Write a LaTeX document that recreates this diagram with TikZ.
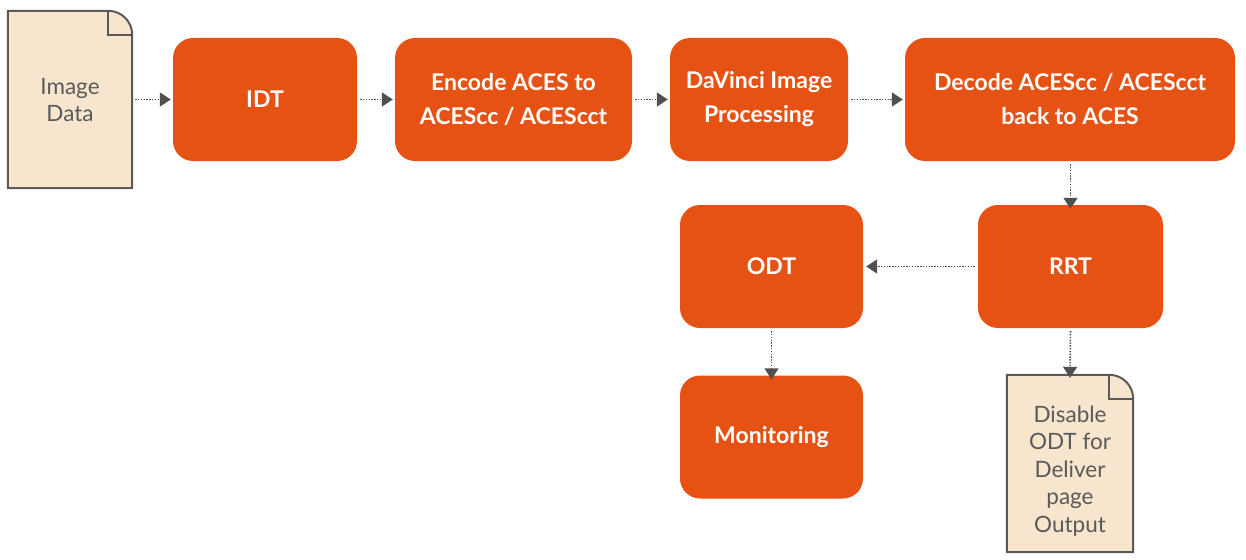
\documentclass[tikz,border=0pt]{standalone}
\usepackage{fontspec}
\setmainfont{Lato}
\usetikzlibrary{arrows.meta}
\definecolor{boxorange}{HTML}{E65213}
\definecolor{docfill}{HTML}{F7E6CD}
\definecolor{docline}{HTML}{5A5A5A}
\definecolor{arrowgray}{HTML}{505050}
\tikzset{
  procbox/.style={fill=boxorange, rounded corners=20pt, text=white, align=center,
    font=\bfseries\fontsize{23}{34}\selectfont, inner sep=0pt},
  docnode/.style={inner sep=0pt, align=center, text=docline,
    font=\fontsize{22.5}{27.5}\selectfont},
  flow/.style={draw=arrowgray, line width=1.6pt, dash pattern=on 1.4pt off 1.4pt,
    -{Triangle[width=14pt,length=11pt,fill=arrowgray]}, shorten <=3pt},
}
\newcommand{\docshape}[1]{%
  \fill[docfill] (#1.south west) -- (#1.south east) -- ([yshift=-24pt]#1.north east)
     arc[start angle=0,end angle=90,radius=24pt] -- (#1.north west) -- cycle;
  \draw[docline, line width=2pt] (#1.south west) -- (#1.south east) -- ([yshift=-24pt]#1.north east)
     arc[start angle=0,end angle=90,radius=24pt] -- (#1.north west) -- cycle;
  \draw[docline, line width=1.6pt] ([xshift=-24pt]#1.north east) -- ([xshift=-24pt,yshift=-24pt]#1.north east) -- ([yshift=-24pt]#1.north east);
}
\begin{document}
\begin{tikzpicture}[x=1pt,y=-1pt]
\useasboundingbox[fill=white] (0,0) rectangle (1246,559);
% document nodes
\node[docnode, minimum width=124pt, minimum height=177pt] (img) at (70,99.5) {};
\node[docnode, minimum width=126pt, minimum height=177pt] (dis) at (1070,463.5) {};
\docshape{img}
\docshape{dis}
\node[docnode] at (70,100) {Image\\Data};
\node[docnode] at (1070,471) {Disable\\ODT for\\Deliver\\page\\Output};
% process boxes
\node[procbox, minimum width=184pt, minimum height=123pt] (idt) at (265,99.5) {IDT};
\node[procbox, minimum width=237pt, minimum height=123pt] (enc) at (513.5,99.5) {Encode ACES to\\ACEScc / ACEScct};
\node[procbox, minimum width=178pt, minimum height=123pt] (dav) at (759,99.5) {DaVinci Image\\Processing};
\node[procbox, minimum width=330pt, minimum height=123pt] (dec) at (1070,99.5) {Decode ACEScc / ACEScct\\back to ACES};
\node[procbox, minimum width=185pt, minimum height=123pt] (rrt) at (1070.5,266.5) {RRT};
\node[procbox, minimum width=183pt, minimum height=123pt] (odt) at (771.5,266.5) {ODT};
\node[procbox, minimum width=183pt, minimum height=123pt] (mon) at (771.5,437) {Monitoring};
% connectors
\draw[flow] (img.east) -- ([xshift=-2pt]idt.west);
\draw[flow] (idt.east) -- ([xshift=-2pt]enc.west);
\draw[flow] (enc.east) -- ([xshift=-2pt]dav.west);
\draw[flow] (dav.east) -- ([xshift=-2pt]dec.west);
\draw[flow] (dec.south -| rrt.north) -- ([yshift=-4pt]rrt.north);
\draw[flow] (rrt.west) -- ([xshift=3pt]odt.east);
\draw[flow] (odt.south) -- ([yshift=-4pt]mon.north);
\draw[flow] (rrt.south) -- ([yshift=-3pt]dis.north);
\end{tikzpicture}
\end{document}
